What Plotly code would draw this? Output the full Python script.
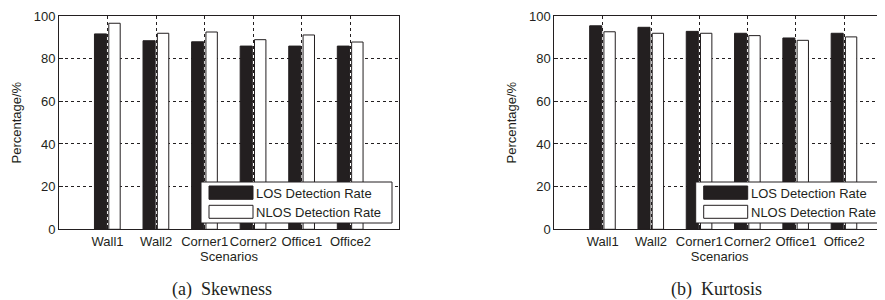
import plotly.graph_objects as go

categories = ["Wall1", "Wall2", "Corner1", "Corner2", "Office1", "Office2"]
skew_los = [91.6, 88.4, 87.9, 85.9, 85.9, 85.9]
skew_nlos = [96.6, 91.9, 92.5, 88.9, 91.1, 87.8]
kurt_los = [95.4, 94.7, 92.8, 91.9, 89.7, 91.9]
kurt_nlos = [92.6, 91.9, 91.9, 90.8, 88.6, 90.2]
series_names = ["LOS Detection Rate", "NLOS Detection Rate"]
y_ticks = [0, 20, 40, 60, 80, 100]
captions = ["(a)  Skewness", "(b)  Kurtosis"]

# the page body has an 8px margin, so the figure is sized to fit the window
OFF = 8
W, H = 885 - OFF, 300 - OFF
INK = "#231f20"
FONT = "Liberation Sans, Arial, sans-serif"
xpos = list(range(1, len(categories) + 1))

fig = go.Figure()
for i, (los, nlos) in enumerate([(skew_los, skew_nlos), (kurt_los, kurt_nlos)]):
    xa = "x" if i == 0 else "x2"
    ya = "y" if i == 0 else "y2"
    fig.add_trace(go.Bar(x=xpos, y=los, name=series_names[0], xaxis=xa, yaxis=ya,
                         offset=-0.27, width=0.25,
                         marker=dict(color=INK, line=dict(color=INK, width=1)),
                         showlegend=False))
    fig.add_trace(go.Bar(x=xpos, y=nlos, name=series_names[1], xaxis=xa, yaxis=ya,
                         offset=0.025, width=0.235,
                         marker=dict(color="white", line=dict(color=INK, width=1)),
                         showlegend=False))

def px_x(p):
    return (p - OFF) / W

def px_y(p):
    return (H - (p - OFF)) / H

ydom = [px_y(229.3), px_y(16)]
common_x = dict(tickvals=xpos, ticktext=categories, showgrid=True, gridcolor=INK,
                griddash="3px,3px", gridwidth=1, showline=True, linecolor=INK,
                linewidth=1, ticks="inside", ticklen=4, tickcolor=INK, tickangle=0,
                zeroline=False, automargin=False,
                tickfont=dict(family=FONT, size=13, color=INK),
                title=dict(text="Scenarios", font=dict(family=FONT, size=13, color=INK), standoff=3))
common_y = dict(range=[0, 100], tickvals=y_ticks, showgrid=True, gridcolor=INK,
                griddash="3px,3px", gridwidth=1, showline=True, linecolor=INK,
                linewidth=1, ticks="inside", ticklen=4, tickcolor=INK, zeroline=False,
                automargin=False,
                tickfont=dict(family=FONT, size=13, color=INK), domain=ydom,
                title=dict(text="Percentage/%", font=dict(family=FONT, size=13, color=INK), standoff=9))

fig.update_layout(
    width=W, height=H, margin=dict(l=0, r=0, t=0, b=0),
    paper_bgcolor="white", plot_bgcolor="white",
    barmode="overlay",
    xaxis=dict(common_x, domain=[px_x(59), px_x(399)], range=[0, 7], mirror=True, anchor="y"),
    yaxis=dict(common_y, mirror=True, anchor="x"),
    xaxis2=dict(common_x, domain=[px_x(554.4), 1.0], range=[0, (885 - 554.4) / 48.3], mirror=True, anchor="y2"),
    yaxis2=dict(common_y, mirror=False, anchor="x2"),
)

# manual legends
shapes = []
annotations = []
for k, dx in enumerate([0, 494.7]):
    shapes.append(dict(type="rect", xref="paper", yref="paper",
                       x0=px_x(201 + dx), x1=px_x(392 + dx), y0=px_y(223), y1=px_y(182),
                       line=dict(color=INK, width=1), fillcolor="white", layer="above"))
    shapes.append(dict(type="rect", xref="paper", yref="paper",
                       x0=px_x(209 + dx), x1=px_x(253 + dx), y0=px_y(199.3), y1=px_y(186),
                       line=dict(color=INK, width=1), fillcolor=INK, layer="above"))
    shapes.append(dict(type="rect", xref="paper", yref="paper",
                       x0=px_x(209 + dx), x1=px_x(253 + dx), y0=px_y(218.3), y1=px_y(205.3),
                       line=dict(color=INK, width=1), fillcolor="white", layer="above"))
    for j, yy in enumerate([193, 212]):
        annotations.append(dict(xref="paper", yref="paper", x=px_x(254 + dx), y=px_y(yy),
                                xanchor="left", yanchor="middle", showarrow=False,
                                text=series_names[j],
                                font=dict(family=FONT, size=13, color=INK)))
    annotations.append(dict(xref="paper", yref="paper", x=px_x([222, 716][k]), y=px_y(289),
                            xanchor="center", yanchor="middle", showarrow=False,
                            text=captions[k],
                            font=dict(family="Liberation Serif, Times New Roman, serif", size=18, color=INK)))

fig.update_layout(shapes=shapes, annotations=annotations)
fig.write_html("out.html")
